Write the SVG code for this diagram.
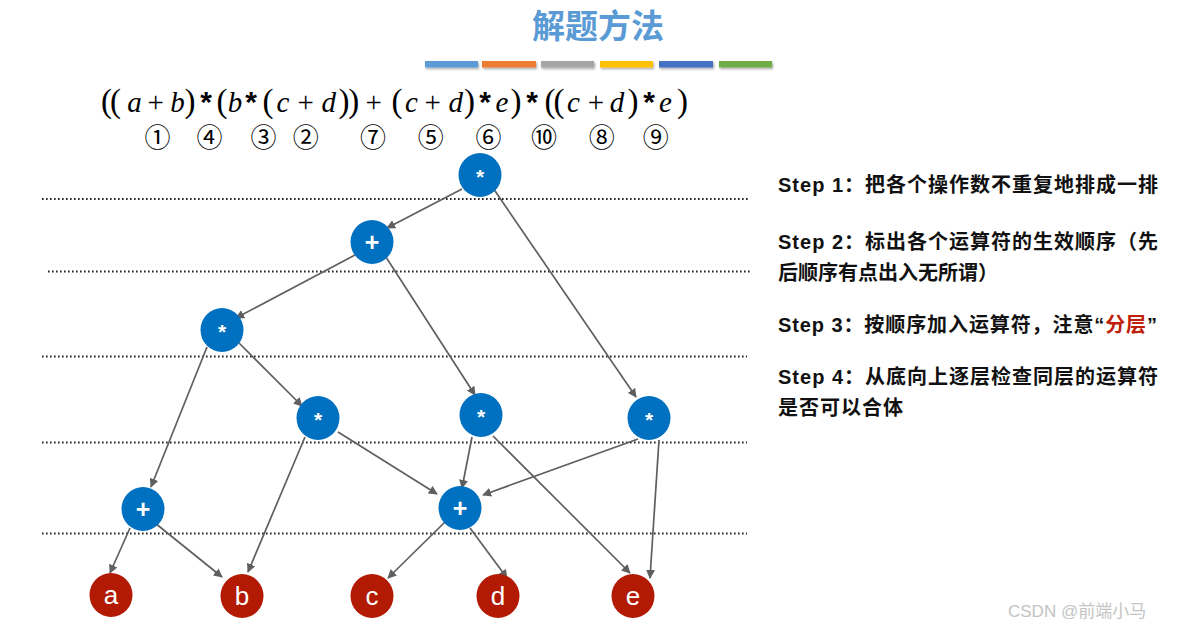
<svg xmlns="http://www.w3.org/2000/svg" width="1185" height="632" viewBox="0 0 1185 632">
<defs>
<marker id="arr" viewBox="0 0 10 10" refX="9" refY="5" markerWidth="9" markerHeight="9" markerUnits="userSpaceOnUse" orient="auto">
<path d="M0,0 L10,5 L0,10 z" fill="#5f5f5f"/>
</marker>
<filter id="sh" x="-10%" y="-50%" width="130%" height="250%">
<feDropShadow dx="1" dy="1.5" stdDeviation="1" flood-color="#000" flood-opacity="0.35"/>
</filter>
<style>
.dot{stroke:#222;stroke-width:1.8;stroke-dasharray:1.6 2.4;fill:none}
.e{stroke:#5f5f5f;stroke-width:1.7;fill:none;marker-end:url(#arr)}
.op{fill:#0070c0}
.lf{fill:#b21a04}
.opt{fill:#fff;font-family:"Liberation Sans",Arial,sans-serif;font-weight:bold;font-size:21px;text-anchor:middle}
.pl{font-size:25px}
.lft{fill:#fff;font-family:"Liberation Sans",Arial,sans-serif;font-size:26px;text-anchor:middle}
.f{font-family:"Liberation Serif","Times New Roman",serif;font-size:29px;fill:#000;text-anchor:middle}
.ast{font-family:"Liberation Sans",Arial,sans-serif;font-size:30px;font-weight:bold;fill:#000;text-anchor:middle}
.i{font-style:italic}
.p{font-size:33px}
.cn{font-family:"Noto Sans CJK SC",sans-serif;font-size:26px;fill:#000;text-anchor:middle}
.st{font-family:"Liberation Sans","Noto Sans CJK SC",sans-serif;font-weight:bold;font-size:20px;fill:#111}
</style>
</defs>
<rect width="1185" height="632" fill="#fff"/>

<text x="598" y="38" font-family="'Noto Sans CJK SC',sans-serif" font-weight="bold" font-size="33" fill="#5b9bd5" text-anchor="middle">解题方法</text>
<g filter="url(#sh)">
<rect x="425" y="61" width="53" height="6.5" fill="#5b9bd5"/>
<rect x="482" y="61" width="54" height="6.5" fill="#ed7d31"/>
<rect x="541" y="61" width="53" height="6.5" fill="#a5a5a5"/>
<rect x="600" y="61" width="53" height="6.5" fill="#ffc000"/>
<rect x="659" y="61" width="54" height="6.5" fill="#4472c4"/>
<rect x="719" y="61" width="53" height="6.5" fill="#70ad47"/>
</g>

<text class="f" y="112"><tspan class="p" x="106.5">(</tspan><tspan class="p" x="115.5">(</tspan><tspan class="i" x="134.5">a</tspan><tspan x="155.7">+</tspan><tspan class="i" x="177.6">b</tspan><tspan class="p" x="190">)</tspan><tspan class="p" x="222">(</tspan><tspan class="i" x="235">b</tspan><tspan class="p" x="268">(</tspan><tspan class="i" x="283">c</tspan><tspan x="305.7">+</tspan><tspan class="i" x="328.8">d</tspan><tspan class="p" x="344">)</tspan><tspan class="p" x="353.8">)</tspan><tspan x="373.8">+</tspan><tspan class="p" x="397">(</tspan><tspan class="i" x="411.5">c</tspan><tspan x="432.6">+</tspan><tspan class="i" x="455.7">d</tspan><tspan class="p" x="469.5">)</tspan><tspan class="i" x="502">e</tspan><tspan class="p" x="516">)</tspan><tspan class="p" x="550">(</tspan><tspan class="p" x="559">(</tspan><tspan class="i" x="573.5">c</tspan><tspan x="596">+</tspan><tspan class="i" x="617">d</tspan><tspan class="p" x="633">)</tspan><tspan class="i" x="665.5">e</tspan><tspan class="p" x="682.6">)</tspan></text>
<text class="ast" y="112"><tspan x="206">*</tspan><tspan x="251">*</tspan><tspan x="485">*</tspan><tspan x="532">*</tspan><tspan x="649">*</tspan></text>

<g class="cn">
<text x="157.6" y="147">①</text>
<text x="209.5" y="147">④</text>
<text x="263.4" y="147">③</text>
<text x="305.7" y="147">②</text>
<text x="373" y="147">⑦</text>
<text x="430.7" y="147">⑤</text>
<text x="488.4" y="147">⑥</text>
<text x="544" y="147">⑩</text>
<text x="601.8" y="147">⑧</text>
<text x="655.7" y="147">⑨</text>
</g>

<g id="levels">
<line class="dot" x1="42" y1="199" x2="748" y2="199"/>
<line class="dot" x1="48" y1="271.5" x2="752" y2="271.5"/>
<line class="dot" x1="42" y1="356.5" x2="747" y2="356.5"/>
<line class="dot" x1="42" y1="442.5" x2="747" y2="442.5"/>
<line class="dot" x1="42" y1="533.5" x2="747" y2="533.5"/>
</g>

<g id="connectors">
<line class="e" x1="462" y1="189" x2="387" y2="228"/>
<line class="e" x1="493" y1="188" x2="636" y2="397"/>
<line class="e" x1="355" y1="255" x2="236" y2="318"/>
<line class="e" x1="384" y1="254" x2="475" y2="395"/>
<line class="e" x1="239" y1="343" x2="302" y2="406"/>
<line class="e" x1="207" y1="347" x2="151" y2="487"/>
<line class="e" x1="305" y1="437" x2="248" y2="572"/>
<line class="e" x1="338" y1="432" x2="437" y2="494"/>
<line class="e" x1="472" y1="437" x2="462" y2="488"/>
<line class="e" x1="493" y1="436" x2="630" y2="573"/>
<line class="e" x1="638" y1="439" x2="483" y2="495"/>
<line class="e" x1="659" y1="440" x2="650" y2="578"/>
<line class="e" x1="130" y1="528" x2="110" y2="573"/>
<line class="e" x1="155" y1="523" x2="222" y2="577"/>
<line class="e" x1="445" y1="522" x2="388" y2="578"/>
<line class="e" x1="470" y1="528" x2="507" y2="578"/>
</g>

<g id="n-top"><ellipse class="op" cx="480" cy="175" rx="21.5" ry="22"/><text class="opt" x="480" y="184">*</text></g>
<g id="n-plus1"><ellipse class="op" cx="372" cy="242" rx="21.5" ry="22"/><text class="opt pl" x="372" y="251">+</text></g>
<g id="n-mulL"><ellipse class="op" cx="222" cy="330" rx="21.5" ry="22"/><text class="opt" x="222" y="339">*</text></g>
<g id="n-mul2"><ellipse class="op" cx="318" cy="418" rx="21.5" ry="22"/><text class="opt" x="318" y="427">*</text></g>
<g id="n-mulM"><ellipse class="op" cx="481" cy="415" rx="21.5" ry="22"/><text class="opt" x="481" y="424">*</text></g>
<g id="n-mulR"><ellipse class="op" cx="649" cy="418" rx="21.5" ry="22"/><text class="opt" x="649" y="427">*</text></g>
<g id="n-plusL"><ellipse class="op" cx="143" cy="509" rx="21.5" ry="22"/><text class="opt pl" x="143" y="518">+</text></g>
<g id="n-plusR"><ellipse class="op" cx="460" cy="508" rx="21.5" ry="22"/><text class="opt pl" x="460" y="517">+</text></g>
<g id="n-a"><ellipse class="lf" cx="111" cy="595" rx="21.5" ry="22"/><text class="lft" x="111" y="604">a</text></g>
<g id="n-b"><ellipse class="lf" cx="242" cy="596" rx="21.5" ry="22"/><text class="lft" x="242" y="605">b</text></g>
<g id="n-c"><ellipse class="lf" cx="372" cy="596" rx="21.5" ry="22"/><text class="lft" x="372" y="605">c</text></g>
<g id="n-d"><ellipse class="lf" cx="498" cy="596" rx="21.5" ry="22"/><text class="lft" x="498" y="605">d</text></g>
<g id="n-e"><ellipse class="lf" cx="633" cy="596" rx="21.5" ry="22"/><text class="lft" x="633" y="605">e</text></g>

<g id="steps">
<text class="st" x="778" y="192" textLength="380" lengthAdjust="spacing">Step 1：把各个操作数不重复地排成一排</text>
<text class="st" x="778" y="249" textLength="380" lengthAdjust="spacing">Step 2：标出各个运算符的生效顺序（先</text>
<text class="st" x="778" y="280" textLength="220" lengthAdjust="spacing">后顺序有点出入无所谓）</text>
<text class="st" x="778" y="332" textLength="379" lengthAdjust="spacing">Step 3：按顺序加入运算符，注意“<tspan fill="#c0200a">分层</tspan>”</text>
<text class="st" x="778" y="384" textLength="380" lengthAdjust="spacing">Step 4：从底向上逐层检查同层的运算符</text>
<text class="st" x="778" y="415" textLength="125" lengthAdjust="spacing">是否可以合体</text>
</g>

<text x="1008" y="617" font-family="'Liberation Sans','Noto Sans CJK SC',sans-serif" font-size="17" fill="#c4c4c4">CSDN @前端小马</text>
</svg>
